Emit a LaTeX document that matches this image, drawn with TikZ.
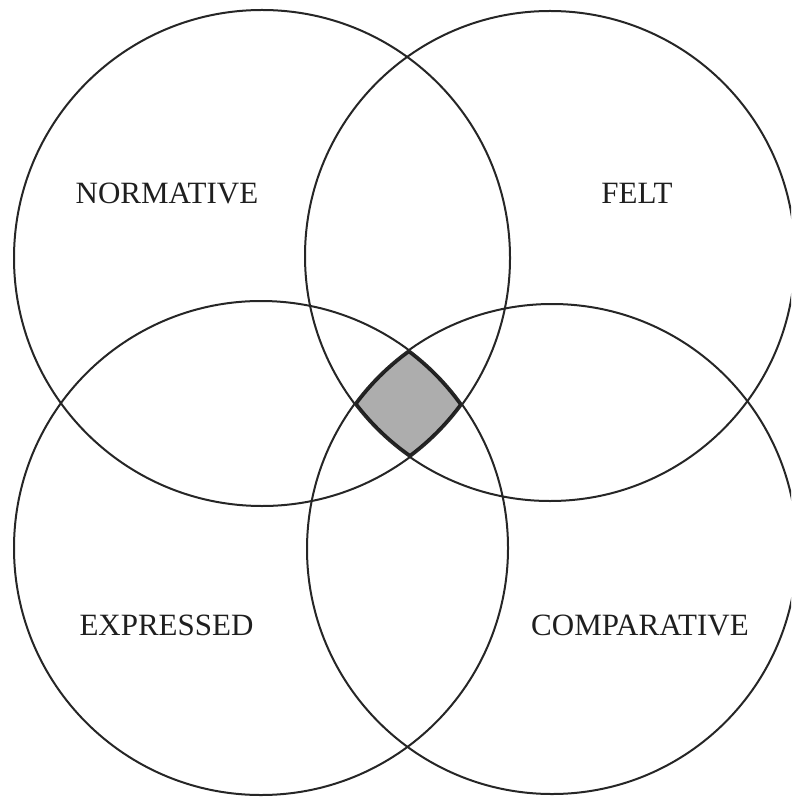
\documentclass[tikz,border=0pt]{standalone}
\usepackage{fontspec}
\setmainfont{Liberation Serif}
\begin{document}
\begin{tikzpicture}[x=1pt,y=-1pt,
  ring/.style={draw=black!85,line width=2pt},
  lbl/.style={inner sep=0pt,anchor=center,text=black!88,font=\fontsize{31}{31}\selectfont}]
\useasboundingbox (0,0) rectangle (791,799);
\coordinate (cTL) at (262,258);
\coordinate (cTR) at (550,256);
\coordinate (cBL) at (261,548);
\coordinate (cBR) at (552,549);
% shaded common region
\begin{scope}
  \clip (cTL) circle[radius=248pt];
  \clip (cTR) circle[radius=245pt];
  \clip (cBL) circle[radius=247pt];
  \clip (cBR) circle[radius=245pt];
  \fill[black!32] (0,0) rectangle (791,799);
  \draw[draw=black!88,line width=5.6pt] (cTL) circle[radius=248pt];
  \draw[draw=black!88,line width=5.6pt] (cTR) circle[radius=245pt];
  \draw[draw=black!88,line width=5.6pt] (cBL) circle[radius=247pt];
  \draw[draw=black!88,line width=5.6pt] (cBR) circle[radius=245pt];
\end{scope}
\begin{scope}
  \clip (0,0) rectangle (791,799);
  \draw[ring] (cTL) circle[radius=248pt];
  \draw[ring] (cTR) circle[radius=245pt];
  \draw[ring] (cBL) circle[radius=247pt];
  \draw[ring] (cBR) circle[radius=245pt];
\end{scope}
\node[lbl] (normative) at (167,193) {NORMATIVE};
\node[lbl] (felt) at (637,193) {FELT};
\node[lbl] (expressed) at (166.5,625) {EXPRESSED};
\node[lbl] (comparative) at (640,625) {COMPARATIVE};
\end{tikzpicture}
\end{document}
